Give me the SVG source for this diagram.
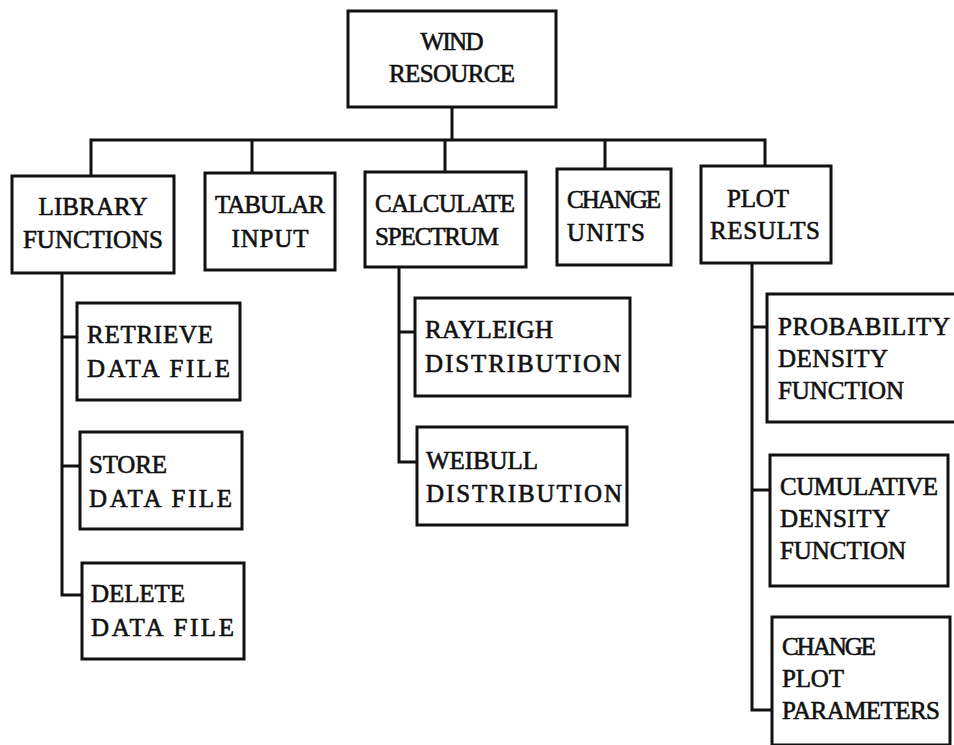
<svg xmlns="http://www.w3.org/2000/svg" width="954" height="745" viewBox="0 0 954 745">
  <style>
    .box { fill: #ffffff; stroke: #111111; stroke-width: 3; }
    .wire { fill: none; stroke: #111111; stroke-width: 3; stroke-linejoin: miter; }
    text { font-family: "Liberation Serif", "Times New Roman", serif; font-size: 25px; fill: #111111; stroke: #111111; stroke-width: 0.6; lengthAdjust: spacing; }
    .mid { text-anchor: middle; }
  </style>
  <rect width="954" height="745" fill="#ffffff"/>

  <!-- connectors -->
  <g id="connectors">
    <!-- root to first level -->
    <path class="wire" d="M452,107 V140"/>
    <path class="wire" d="M91,176 V140 H765 V166"/>
    <path class="wire" d="M252,140 V173"/>
    <path class="wire" d="M445,140 V172"/>
    <path class="wire" d="M605,140 V169"/>
    <!-- library functions branch -->
    <path class="wire" d="M62,273 V595 H82"/>
    <path class="wire" d="M62,337 H77"/>
    <path class="wire" d="M62,466 H80"/>
    <!-- calculate spectrum branch -->
    <path class="wire" d="M399,267 V462 H417"/>
    <path class="wire" d="M399,332 H415"/>
    <!-- plot results branch -->
    <path class="wire" d="M752,263 V710 H772"/>
    <path class="wire" d="M752,327 H767"/>
    <path class="wire" d="M752,490 H770"/>
  </g>

  <!-- typewriter pitch: 15.8px per character, set through textLength -->
  <g id="wind-resource">
    <rect class="box" x="348" y="11" width="208" height="96"/>
    <text class="mid" x="452" y="50" textLength="63" lengthAdjust="spacing">WIND</text>
    <text class="mid" x="452" y="82" textLength="126" lengthAdjust="spacing">RESOURCE</text>
  </g>

  <g id="library-functions">
    <rect class="box" x="12" y="176" width="162" height="97"/>
    <text class="mid" x="93" y="215" textLength="109" lengthAdjust="spacing">LIBRARY</text>
    <text class="mid" x="93" y="248" textLength="140" lengthAdjust="spacing">FUNCTIONS</text>
  </g>

  <g id="tabular-input">
    <rect class="box" x="205" y="173" width="130" height="97"/>
    <text class="mid" x="270" y="213" textLength="110" lengthAdjust="spacing">TABULAR</text>
    <text class="mid" x="270" y="247" textLength="77" lengthAdjust="spacing">INPUT</text>
  </g>

  <g id="calculate-spectrum">
    <rect class="box" x="365" y="172" width="161" height="95"/>
    <text x="375" y="212" textLength="140" lengthAdjust="spacing">CALCULATE</text>
    <text x="375" y="245" textLength="124" lengthAdjust="spacing">SPECTRUM</text>
  </g>

  <g id="change-units">
    <rect class="box" x="557" y="169" width="114" height="96"/>
    <text x="567" y="208" textLength="94" lengthAdjust="spacing">CHANGE</text>
    <text x="567" y="241" textLength="78" lengthAdjust="spacing">UNITS</text>
  </g>

  <g id="plot-results">
    <rect class="box" x="701" y="166" width="130" height="97"/>
    <text x="727" y="207" textLength="62" lengthAdjust="spacing">PLOT</text>
    <text x="710" y="239" textLength="110" lengthAdjust="spacing">RESULTS</text>
  </g>

  <g id="retrieve-data-file">
    <rect class="box" x="77" y="303" width="163" height="97"/>
    <text x="87" y="343" textLength="126" lengthAdjust="spacing">RETRIEVE</text>
    <text x="87" y="377" textLength="143" lengthAdjust="spacing">DATA FILE</text>
  </g>

  <g id="store-data-file">
    <rect class="box" x="80" y="432" width="162" height="97"/>
    <text x="89" y="473" textLength="78" lengthAdjust="spacing">STORE</text>
    <text x="89" y="507" textLength="143" lengthAdjust="spacing">DATA FILE</text>
  </g>

  <g id="delete-data-file">
    <rect class="box" x="82" y="563" width="162" height="96"/>
    <text x="91" y="602" textLength="94" lengthAdjust="spacing">DELETE</text>
    <text x="91" y="636" textLength="143" lengthAdjust="spacing">DATA FILE</text>
  </g>

  <g id="rayleigh-distribution">
    <rect class="box" x="415" y="298" width="215" height="98"/>
    <text x="425" y="338" textLength="128" lengthAdjust="spacing">RAYLEIGH</text>
    <text x="425" y="372" textLength="196" lengthAdjust="spacing">DISTRIBUTION</text>
  </g>

  <g id="weibull-distribution">
    <rect class="box" x="417" y="427" width="210" height="98"/>
    <text x="426" y="469" textLength="112" lengthAdjust="spacing">WEIBULL</text>
    <text x="426" y="502" textLength="196" lengthAdjust="spacing">DISTRIBUTION</text>
  </g>

  <g id="probability-density-function">
    <rect class="box" x="767" y="294" width="200" height="128"/>
    <text x="778" y="335" textLength="172" lengthAdjust="spacing">PROBABILITY</text>
    <text x="778" y="367" textLength="110" lengthAdjust="spacing">DENSITY</text>
    <text x="778" y="399" textLength="126" lengthAdjust="spacing">FUNCTION</text>
  </g>

  <g id="cumulative-density-function">
    <rect class="box" x="770" y="455" width="178" height="131"/>
    <text x="780" y="495" textLength="158" lengthAdjust="spacing">CUMULATIVE</text>
    <text x="780" y="527" textLength="110" lengthAdjust="spacing">DENSITY</text>
    <text x="780" y="559" textLength="126" lengthAdjust="spacing">FUNCTION</text>
  </g>

  <g id="change-plot-parameters">
    <rect class="box" x="772" y="617" width="178" height="128"/>
    <text x="782" y="655" textLength="94" lengthAdjust="spacing">CHANGE</text>
    <text x="782" y="687" textLength="62" lengthAdjust="spacing">PLOT</text>
    <text x="782" y="719" textLength="158" lengthAdjust="spacing">PARAMETERS</text>
  </g>
</svg>
